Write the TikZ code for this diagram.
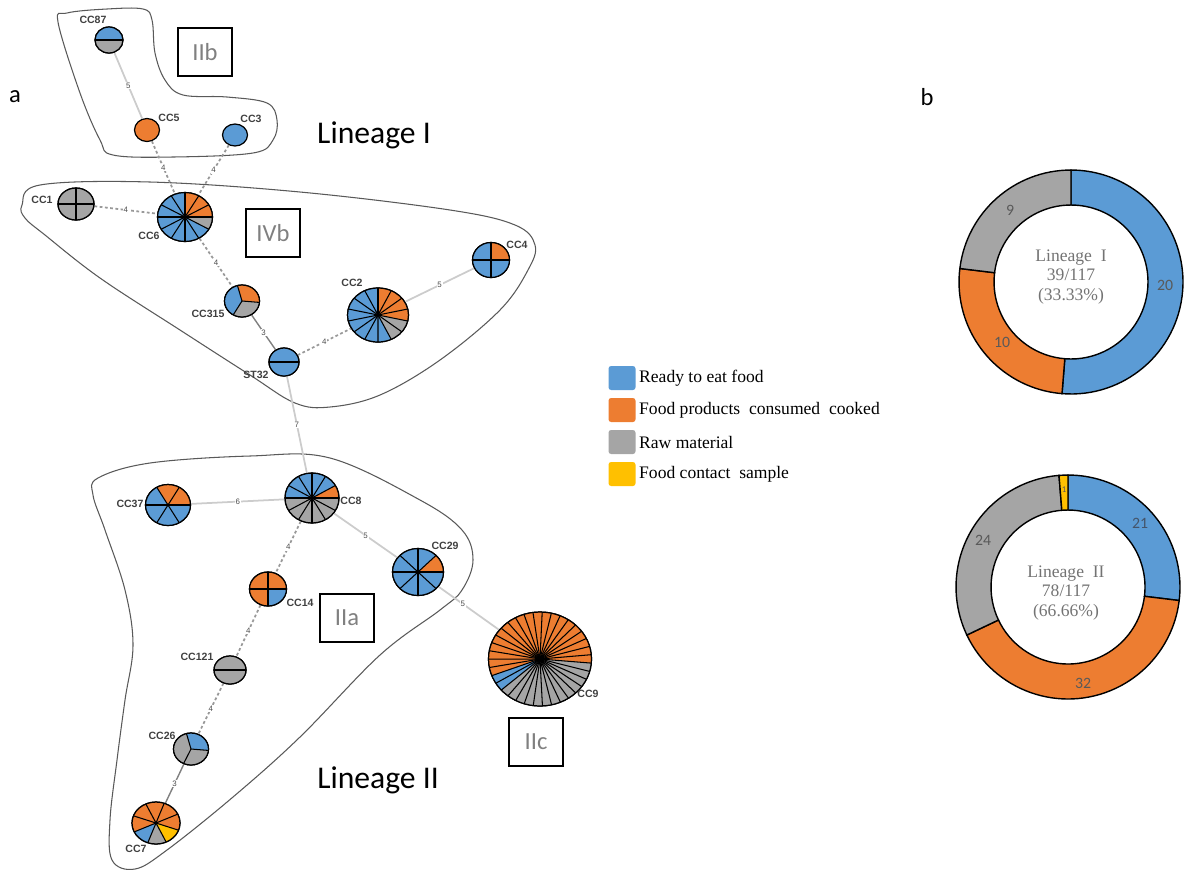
\documentclass[tikz,border=0pt]{standalone}
\usepackage{fontspec}
\setmainfont{Liberation Serif}
\newfontfamily\calibfont{Carlito}
\newfontfamily\arialfont{Liberation Sans}
\usetikzlibrary{shapes.geometric,positioning}
\definecolor{stblue}{RGB}{91,155,213}
\definecolor{storange}{RGB}{237,125,49}
\definecolor{stgrey}{RGB}{165,165,165}
\definecolor{styellow}{RGB}{255,192,0}
\definecolor{boxgrey}{RGB}{128,128,128}
\definecolor{numgrey}{RGB}{89,89,89}
\definecolor{numblue}{RGB}{68,84,106}

% pie on a named node: node, x radius, y radius, sectors, spokes
\newcommand{\stpie}[5]{%
  \foreach \pa/\pb/\pc in {#4}
    \fill[\pc] (#1.center) -- ++(\pa:#2 and #3) arc[start angle=\pa, end angle=\pb, x radius=#2, y radius=#3] -- cycle;
  \foreach \pk in {#5}
    \draw[line width=0.6pt] (#1.center) -- ++(\pk:#2 and #3);
  \draw[line width=0.7pt] (#1.center) ellipse[x radius=#2, y radius=#3];
}
% ring chart around a named coordinate
\newcommand{\stdonut}[2]{%
  \foreach \pa/\pb/\pc in {#2}
    \filldraw[fill=\pc, draw=black, line width=0.8pt] ([shift={(\pa:22.4mm)}]#1) arc[start angle=\pa, end angle=\pb, radius=22.4mm]
      -- ([shift={(\pb:15.4mm)}]#1) arc[start angle=\pb, end angle=\pa, radius=15.4mm] -- cycle;
}

\begin{document}
\begin{tikzpicture}[x=0.02cm, y=-0.02cm,
    stnode/.style={ellipse, inner sep=0pt, draw=black, line width=0.7pt},
    stlabel/.style={font=\arialfont\bfseries\fontsize{6}{7}\selectfont, text=black!75, inner sep=1pt},
    link/.style={draw=black!20, line width=1pt},
    linkd/.style={draw=black!40, line width=1pt, dash pattern=on 1.6pt off 1.4pt},
    linkdk/.style={draw=black!50, line width=0.8pt},
    dist/.style={font=\arialfont\fontsize{4.5}{5}\selectfont, text=black!70, fill=white, inner sep=0.5pt},
    hull/.style={draw=black!65, line width=0.6pt},
    clbox/.style={draw=black, line width=0.7pt, minimum width=10.8mm, minimum height=9.6mm, font=\calibfont\fontsize{14}{15}\selectfont, text=boxgrey},
    lineage/.style={font=\calibfont\fontsize{18}{20}\selectfont},
    panel/.style={font=\calibfont\fontsize{14}{16}\selectfont},
    swatch/.style={rounded corners=1.5pt, minimum width=5.4mm, minimum height=4.8mm, inner sep=0pt},
    legtext/.style={font=\fontsize{10}{12}\selectfont, inner sep=0pt},
    ringtext/.style={align=center, font=\fontsize{10}{11.3}\selectfont, text=black!55},
    ringnum/.style={font=\calibfont\fontsize{9}{10}\selectfont, text=numgrey, inner sep=0pt}
  ]
  \useasboundingbox (0,0) rectangle (1185,873);

  % hulls
  \draw[hull] plot[smooth cycle, tension=0.6] coordinates {(58,22) (67,13) (107,9) (143,9) (152,20) (155,53) (165,80) (183,95) (227,97) (267,103) (277,120) (273,140) (253,153) (173,157) (113,155) (100,140) (80,93)};
  \draw[hull] plot[smooth cycle, tension=0.6] coordinates {(22,205) (40,185) (150,182) (300,192) (450,210) (515,225) (535,245) (528,270) (500,310) (440,360) (380,395) (330,407) (295,403) (250,375) (180,330) (100,278) (45,235) (25,218)};
  \draw[hull] plot[smooth cycle, tension=0.6] coordinates {(98,478) (150,463) (250,456) (330,458) (420,500) (462,530) (473,560) (462,590) (440,610) (380,655) (300,737) (233,797) (167,850) (135,869) (112,860) (110,820) (117,760) (125,700) (133,645) (125,590) (105,530) (93,495)};

  \node[clbox] (boxIIb) at (205,52) {IIb};
  \node[clbox] (boxIVb) at (273,233) {IVb};
  \node[clbox] (boxIIa) at (347,618) {IIa};
  \node[clbox] (boxIIc) at (536,742) {IIc};
  \node[lineage] (linI) at (374,135) {Lineage I};
  \node[lineage] (linII) at (378,780) {Lineage II};
  \node[panel] (pa) at (15,97) {a};
  \node[panel] (pb) at (927,97) {b};

  % Lineage I nodes
  \node[stnode, minimum width=5.6mm, minimum height=5.2mm] (cc87) at (109,40) {};
  \node[stnode, fill=storange, minimum width=5mm, minimum height=4.6mm] (cc5) at (147,130) {};
  \node[stnode, fill=stblue, minimum width=5mm, minimum height=4.4mm] (cc3) at (235,135) {};
  \node[stnode, minimum width=7.2mm, minimum height=6.4mm] (cc1) at (76,204) {};
  \node[stnode, minimum width=11mm, minimum height=9.8mm] (cc6) at (185,217) {};
  \node[stnode, minimum width=7mm, minimum height=6.4mm] (cc315) at (242,301) {};
  \node[stnode, minimum width=6mm, minimum height=5.6mm] (st32) at (284,362) {};
  \node[stnode, minimum width=12.2mm, minimum height=10.8mm] (cc2) at (378,315) {};
  \node[stnode, minimum width=7.4mm, minimum height=7mm] (cc4) at (491,260) {};

  % Lineage II nodes
  \node[stnode, minimum width=9mm, minimum height=8.2mm] (cc37) at (168,505) {};
  \node[stnode, minimum width=10.8mm, minimum height=10mm] (cc8) at (312,498) {};
  \node[stnode, minimum width=10.2mm, minimum height=9.4mm] (cc29) at (418,572) {};
  \node[stnode, minimum width=7.4mm, minimum height=6.8mm] (cc14) at (268,589) {};
  \node[stnode, minimum width=6.4mm, minimum height=5.6mm] (cc121) at (230,670) {};
  \node[stnode, minimum width=7mm, minimum height=6.4mm] (cc26) at (191,749) {};
  \node[stnode, minimum width=9.6mm, minimum height=8.4mm] (cc7) at (156,823) {};
  \node[stnode, minimum width=20.6mm, minimum height=18.8mm] (cc9) at (540,659) {};

  % links
  \draw[link] (cc87) -- node[dist] (d1) {5} (cc5);
  \draw[linkd] (cc5) -- node[dist] (d2) {4} (cc6);
  \draw[linkd] (cc3) -- node[dist] (d3) {4} (cc6);
  \draw[linkd] (cc1) -- node[dist] (d4) {4} (cc6);
  \draw[linkd] (cc6) -- node[dist] (d5) {4} (cc315);
  \draw[linkdk] (cc315) -- node[dist] (d6) {3} (st32);
  \draw[linkd] (st32) -- node[dist] (d7) {4} (cc2);
  \draw[link] (cc2) -- node[dist] (d8) {5} (cc4);
  \draw[link] (st32) -- node[dist] (d9) {7} (cc8);
  \draw[link] (cc37) -- node[dist] (d10) {6} (cc8);
  \draw[linkd] (cc8) -- node[dist] (d11) {4} (cc14);
  \draw[link] (cc8) -- node[dist] (d12) {5} (cc29);
  \draw[link] (cc29) -- node[dist, pos=0.4] (d13) {5} (cc9);
  \draw[linkd] (cc14) -- node[dist] (d14) {4} (cc121);
  \draw[linkd] (cc121) -- node[dist] (d15) {4} (cc26);
  \draw[linkdk] (cc26) -- node[dist] (d16) {3} (cc7);

  % pies
  \stpie{cc87}{2.8mm}{2.6mm}{0/180/stblue, 180/360/stgrey}{0,180}
  \stpie{cc1}{3.6mm}{3.2mm}{0/360/stgrey}{0,90,180,270}
  \stpie{cc6}{5.5mm}{4.9mm}{0/90/storange, -30/0/stgrey, 90/330/stblue}{0,30,...,330}
  \stpie{cc315}{3.5mm}{3.2mm}{-5/105/storange, -120/-5/stgrey, 105/240/stblue}{105,-5,-120}
  \stpie{st32}{3mm}{2.8mm}{0/360/stblue}{0,180}
  \stpie{cc2}{6.1mm}{5.4mm}{-12.857/90/storange, -64.286/-12.857/stgrey, 90/295.714/stblue}{90,115.714,...,440}
  \stpie{cc4}{3.7mm}{3.5mm}{0/90/storange, 90/360/stblue}{0,90,180,270}
  \stpie{cc37}{4.5mm}{4.1mm}{0/120/storange, 120/360/stblue}{0,60,...,300}
  \stpie{cc8}{5.4mm}{5mm}{0/30/storange, 30/180/stblue, 180/360/stgrey}{0,30,...,330}
  \stpie{cc29}{5.1mm}{4.7mm}{0/45/storange, 45/360/stblue}{0,45,...,315}
  \stpie{cc14}{3.7mm}{3.4mm}{0/270/storange, 270/360/stblue}{0,90,180,270}
  \stpie{cc121}{3.2mm}{2.8mm}{0/360/stgrey}{0,180}
  \stpie{cc26}{3.5mm}{3.2mm}{-5/105/stblue, 105/355/stgrey}{105,-5,-115}
  \stpie{cc7}{4.8mm}{4.2mm}{-20/205/storange, 205/250/stblue, 250/295/stgrey, 295/340/styellow}{-20,25,...,295}
  \stpie{cc9}{10.3mm}{9.4mm}{-5/200.714/storange, 200.714/221.286/stblue, 221.286/355/stgrey}{-5,5.2857,...,350}

  % node labels
  \node[stlabel] (l87) at (93,20) {CC87};
  \node[stlabel] (l5) at (169,118) {CC5};
  \node[stlabel] (l3) at (251,119) {CC3};
  \node[stlabel] (l1) at (42,200) {CC1};
  \node[stlabel] (l6) at (149,236) {CC6};
  \node[stlabel] (l315) at (208,314) {CC315};
  \node[stlabel] (l32) at (256,375) {ST32};
  \node[stlabel] (l2) at (352,283) {CC2};
  \node[stlabel] (l4) at (517,245) {CC4};
  \node[stlabel] (l37) at (130,504) {CC37};
  \node[stlabel] (l8) at (351,501) {CC8};
  \node[stlabel] (l29) at (445,546) {CC29};
  \node[stlabel] (l14) at (300,603) {CC14};
  \node[stlabel] (l121) at (197,657) {CC121};
  \node[stlabel] (l26) at (162,736) {CC26};
  \node[stlabel] (l7) at (136,849) {CC7};
  \node[stlabel] (l9) at (588,694) {CC9};

  % legend
  \node[swatch, fill=stblue] (sw1) at (622,378) {};
  \node[swatch, fill=storange] (sw2) at (622,410) {};
  \node[swatch, fill=stgrey] (sw3) at (622,442) {};
  \node[swatch, fill=styellow] (sw4) at (622,474) {};
  \node[legtext, right=0.6mm of sw1] (lg1) {Ready to eat food};
  \node[legtext, right=0.6mm of sw2] (lg2) {Food products\ \ consumed\ \ cooked};
  \node[legtext, right=0.6mm of sw3] (lg3) {Raw material};
  \node[legtext, right=0.6mm of sw4] (lg4) {Food contact\ \ sample};

  % panel b rings
  \coordinate (ringI) at (1071,282);
  \stdonut{ringI}{-94.615/90/stblue, -186.923/-94.615/storange, -270/-186.923/stgrey}
  \node[ringtext] (txtI) at (1071,277) {Lineage\ \ I\\39/117\\(33.33\%)};
  \node[ringnum] (nI20) at (1165,285) {20};
  \node[ringnum] (nI10) at (1002,342) {10};
  \node[ringnum] (nI9) at (1010,210) {9};

  \coordinate (ringII) at (1068,587);
  \stdonut{ringII}{-6.923/90/stblue, -154.615/-6.923/storange, -265.385/-154.615/stgrey, -270/-265.385/styellow}
  \node[ringtext] (txtII) at (1066,593) {Lineage\ \ II\\78/117\\(66.66\%)};
  \node[ringnum, text=numblue] (nII21) at (1140,523) {21};
  \node[ringnum] (nII32) at (1083,683) {32};
  \node[ringnum] (nII24) at (983,540) {24};
  \node[ringnum, font=\calibfont\fontsize{5}{6}\selectfont] (nII1) at (1064,490) {1};
\end{tikzpicture}
\end{document}
